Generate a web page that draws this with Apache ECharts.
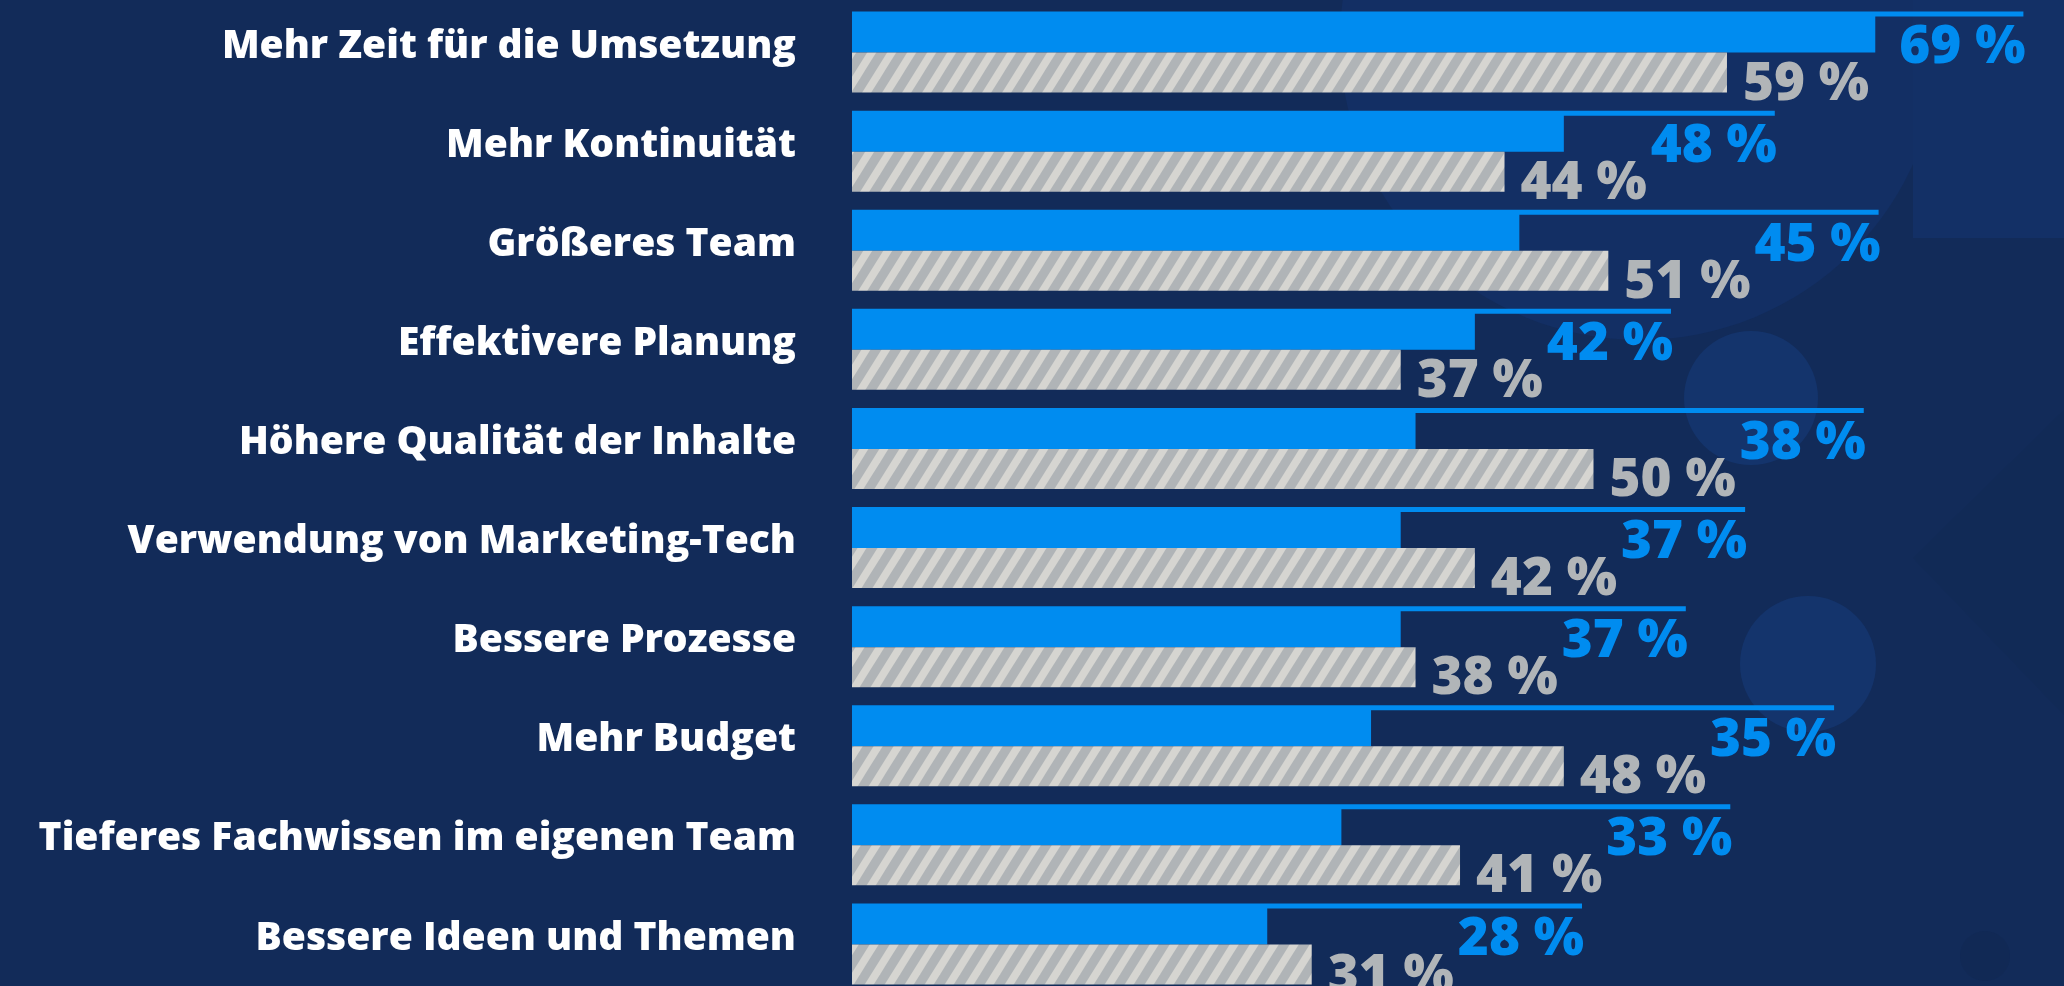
<!DOCTYPE html>
<html>
<head>
<meta charset="utf-8">
<script src="https://cdn.jsdelivr.net/npm/echarts@6/dist/echarts.min.js"></script>
<style>
html,body{margin:0;padding:0;background:#122b59;}
#main{width:2064px;height:986px;}
</style>
</head>
<body>
<div id="main"></div>
<script>
var categories = [
	'Mehr Zeit für die Umsetzung',
	'Mehr Kontinuität',
	'Größeres Team',
	'Effektivere Planung',
	'Höhere Qualität der Inhalte',
	'Verwendung von Marketing-Tech',
	'Bessere Prozesse',
	'Mehr Budget',
	'Tieferes Fachwissen im eigenen Team',
	'Bessere Ideen und Themen'
];
var valuesBlue = [69, 48, 45, 42, 38, 37, 37, 35, 33, 28];
var valuesGray = [59, 44, 51, 37, 50, 42, 38, 48, 41, 31];

var BLUE = '#008cf0';
var GRAY_TXT = '#b1b5b8';
var LABEL_FONT = '800 53px "Open Sans"';

// schraffur fuer die grauen balken
function makeHatch() {
	var c = document.createElement('canvas');
	c.width = 20; c.height = 32;
	var ctx = c.getContext('2d');
	ctx.fillStyle = '#b0b4b7';
	ctx.fillRect(0, 0, 20, 32);
	ctx.fillStyle = '#d6d5d1';
	for (var k = -1; k <= 1; k++) {
		var x0 = k * 20;
		ctx.beginPath();
		ctx.moveTo(x0, 32);
		ctx.lineTo(x0 + 9, 32);
		ctx.lineTo(x0 + 29, 0);
		ctx.lineTo(x0 + 20, 0);
		ctx.closePath();
		ctx.fill();
	}
	return c;
}

var measureCtx = document.createElement('canvas').getContext('2d');
measureCtx.font = LABEL_FONT;
function textW(s) {
	return measureCtx.measureText(s).width;
}

// blaue beschriftung + linie, hinter der grauen beschriftung versetzt
function renderBlueLabel(params, api) {
	var i = api.value(0);
	var blue = api.value(1), gray = api.value(2);
	var p0 = api.coord([0, i]);
	var pb = api.coord([blue, i]);
	var pg = api.coord([gray, i]);
	var grayTxt = gray + ' %', blueTxt = blue + ' %';
	var start = Math.max(pg[0] + 16 + textW(grayTxt) + 4, pb[0] + 24);
	var end = start + textW(blueTxt) - 2;
	var cy = p0[1];
	return {
		type: 'group',
		children: [
			{type: 'rect', shape: {x: p0[0], y: cy - 41, width: end - p0[0], height: 5}, style: {fill: BLUE}},
			{type: 'text', x: start, y: cy - 5, style: {text: blueTxt, fill: BLUE, font: LABEL_FONT, align: 'left', verticalAlign: 'middle'}}
		]
	};
}

var labelData = [];
for (var i = 0; i < categories.length; i++) {
	labelData.push([i, valuesBlue[i], valuesGray[i]]);
}

var myChart = echarts.init(document.getElementById('main'));

var option = {
	backgroundColor: '#122b59',
	animation: false,
	graphic: {
		elements: [
			{type: 'circle', shape: {cx: 1640, cy: 40, r: 300}, style: {fill: '#132f64'}, z: 0},
			{type: 'rect', shape: {x: 1913, y: 0, width: 151, height: 238}, style: {fill: '#133066'}, z: 0},
			{type: 'polygon', shape: {points: [[1913, 558], [2064, 410], [2064, 715]]}, style: {fill: '#112a56'}, z: 0},
			{type: 'circle', shape: {cx: 1751, cy: 398, r: 67}, style: {fill: '#14346c'}, z: 0},
			{type: 'circle', shape: {cx: 1808, cy: 664, r: 68}, style: {fill: '#14346c'}, z: 0},
			{type: 'circle', shape: {cx: 1985, cy: 956, r: 25}, style: {fill: '#112955'}, z: 0}
		]
	},
	grid: {
		left: 852,
		top: 3,
		width: 1483,
		height: 991,
		outerBoundsMode: 'none'
	},
	xAxis: {
		type: 'value',
		min: 0,
		max: 100,
		show: false
	},
	yAxis: {
		type: 'category',
		inverse: true,
		data: categories,
		axisLine: {show: false},
		axisTick: {show: false},
		axisLabel: {
			color: '#ffffff',
			fontFamily: 'Open Sans',
			fontWeight: 800,
			fontSize: 39,
			margin: 56,
			verticalAlign: 'bottom',
			lineHeight: 12
		}
	},
	series: [
		{
			name: 'blau',
			type: 'bar',
			data: valuesBlue,
			barWidth: 40,
			barGap: '0%',
			itemStyle: {color: BLUE},
			z: 3
		},
		{
			name: 'grau',
			type: 'bar',
			data: valuesGray,
			barWidth: 40,
			itemStyle: {color: {image: makeHatch(), repeat: 'repeat'}},
			label: {
				show: true,
				position: 'right',
				distance: 16,
				formatter: '{c} %',
				color: GRAY_TXT,
				fontFamily: 'Open Sans',
				fontWeight: 800,
				fontSize: 53,
				offset: [0, 12]
			},
			z: 3
		},
		{
			name: 'linie',
			type: 'custom',
			data: labelData,
			encode: {x: [1, 2], y: 0},
			renderItem: renderBlueLabel,
			z: 4
		}
	]
};

myChart.setOption(option);
</script>
</body>
</html>
